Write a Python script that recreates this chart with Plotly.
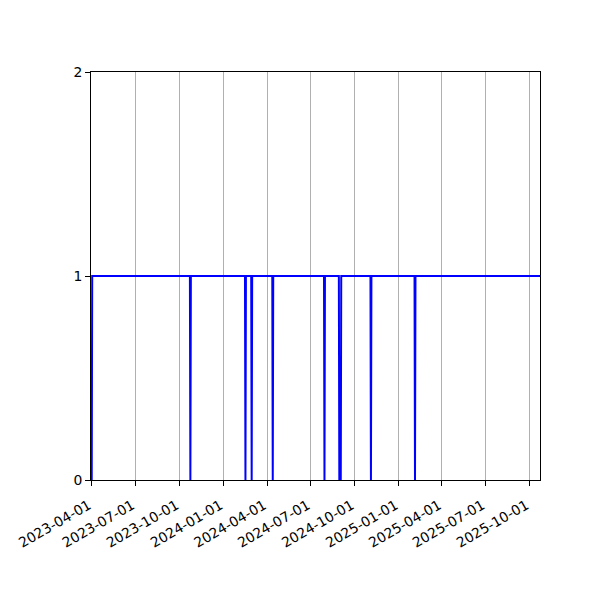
import plotly.graph_objects as go

# status samples (1 = up, 0 = down)
dates = [
    "2023-04-01", "2023-04-02",
    "2023-10-23", "2023-10-24", "2023-10-25",
    "2024-02-15", "2024-02-16", "2024-02-17",
    "2024-02-28", "2024-02-29", "2024-03-01",
    "2024-04-12", "2024-04-13", "2024-04-14",
    "2024-07-29", "2024-07-30", "2024-07-31",
    "2024-08-29", "2024-08-30", "2024-09-02", "2024-09-03",
    "2024-11-03", "2024-11-04", "2024-11-05",
    "2025-02-03", "2025-02-04", "2025-02-05",
    "2025-10-23",
]
values = [
    0, 1,
    1, 0, 1,
    1, 0, 1,
    1, 0, 1,
    1, 0, 1,
    1, 0, 1,
    1, 0, 0, 1,
    1, 0, 1,
    1, 0, 1,
    1,
]

x_ticks = [
    "2023-04-01", "2023-07-01", "2023-10-01", "2024-01-01", "2024-04-01",
    "2024-07-01", "2024-10-01", "2025-01-01", "2025-04-01", "2025-07-01",
    "2025-10-01",
]
y_ticks = [0, 1, 2]

fig = go.Figure()
fig.add_trace(go.Scatter(
    x=dates, y=values, mode="lines",
    line=dict(color="#0000ff", width=2),
    showlegend=False,
))

# page puts the figure 8px in, so margins are shifted to compensate
fig.update_layout(
    width=600, height=600,
    margin=dict(l=83, r=68, t=64, b=128),
    paper_bgcolor="white", plot_bgcolor="white",
    font=dict(family="DejaVu Sans", size=13.9, color="black"),
)
fig.update_xaxes(
    type="date",
    range=["2023-03-30 12:00", "2025-10-23"],
    tickvals=x_ticks, ticktext=x_ticks, tickangle=-30,
    ticklabelstandoff=6, ticklabelshift=-3,
    showgrid=True, gridcolor="#b0b0b0", gridwidth=1,
    showline=True, linecolor="black", linewidth=1, mirror=True,
    ticks="outside", ticklen=5, tickcolor="black",
    zeroline=False, automargin=False,
)
fig.update_yaxes(
    range=[0, 2], tickvals=y_ticks,
    showgrid=False,
    showline=True, linecolor="black", linewidth=1, mirror=True,
    ticks="outside", ticklen=5, tickcolor="black",
    zeroline=False, automargin=False,
)

fig.write_html("out.html")
